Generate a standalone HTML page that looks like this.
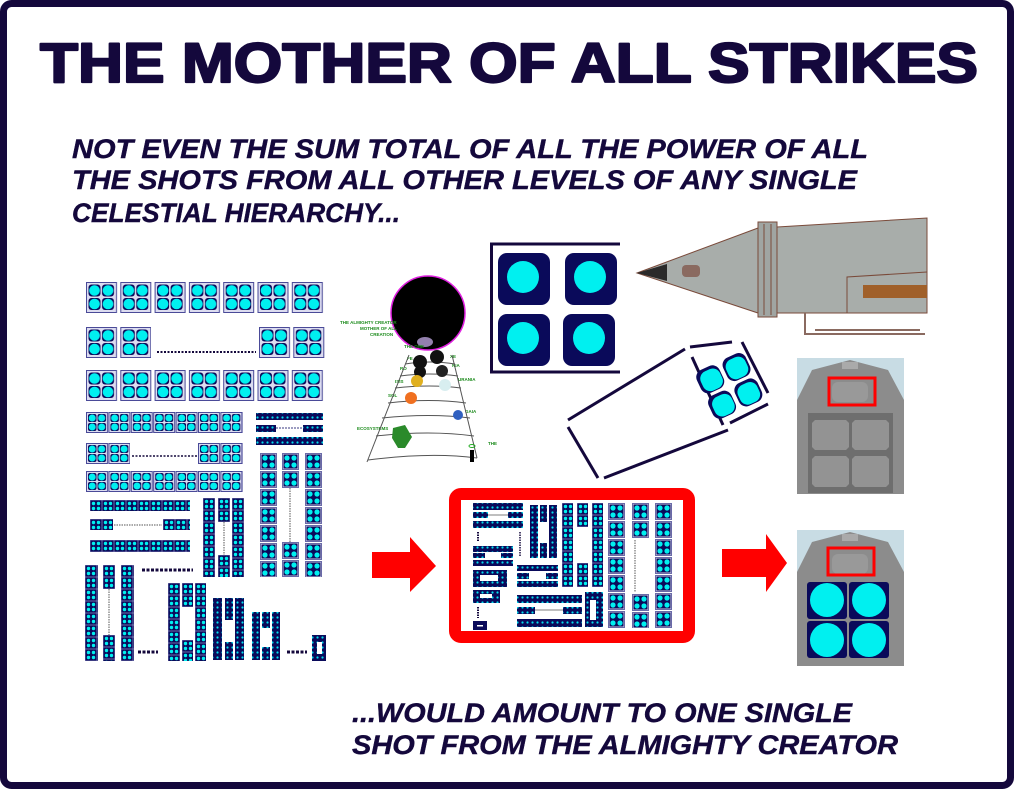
<!DOCTYPE html>
<html><head><meta charset="utf-8"><style>
html,body{margin:0;padding:0;background:#fff;}
svg{display:block;}
text{font-family:"Liberation Sans",Arial,sans-serif;fill:#14083c;font-weight:bold;}
</style></head><body>
<svg width="1014" height="789" viewBox="0 0 1014 789" xmlns="http://www.w3.org/2000/svg">
<defs>
<pattern id="pa" width="34.3" height="31" patternUnits="userSpaceOnUse">
 <rect x="0.5" y="0.5" width="30" height="30" fill="#dcdcf0" stroke="#4a4a98"/>
 <rect x="2.5" y="2.5" width="12" height="12" rx="3" fill="#0a0a5a"/><rect x="16" y="2.5" width="12" height="12" rx="3" fill="#0a0a5a"/>
 <rect x="2.5" y="16" width="12" height="12" rx="3" fill="#0a0a5a"/><rect x="16" y="16" width="12" height="12" rx="3" fill="#0a0a5a"/>
 <circle cx="8.5" cy="8.5" r="5.3" fill="#00f0f0"/><circle cx="22" cy="8.5" r="5.3" fill="#00f0f0"/>
 <circle cx="8.5" cy="22" r="5.3" fill="#00f0f0"/><circle cx="22" cy="22" r="5.3" fill="#00f0f0"/>
</pattern>
<pattern id="pb" width="22.4" height="21" patternUnits="userSpaceOnUse">
 <rect x="0.5" y="0.5" width="21" height="20" fill="#dcdcf0" stroke="#4a4a98"/>
 <rect x="2" y="2" width="8.5" height="8" rx="2" fill="#0a0a5a"/><rect x="11.5" y="2" width="8.5" height="8" rx="2" fill="#0a0a5a"/>
 <rect x="2" y="11" width="8.5" height="8" rx="2" fill="#0a0a5a"/><rect x="11.5" y="11" width="8.5" height="8" rx="2" fill="#0a0a5a"/>
 <circle cx="6.2" cy="6" r="3.5" fill="#00f0f0"/><circle cx="15.7" cy="6" r="3.5" fill="#00f0f0"/>
 <circle cx="6.2" cy="15" r="3.5" fill="#00f0f0"/><circle cx="15.7" cy="15" r="3.5" fill="#00f0f0"/>
</pattern>
<pattern id="pm" width="17" height="18" patternUnits="userSpaceOnUse">
 <rect x="0.5" y="0.5" width="16" height="16" fill="#d0d0ea" stroke="#6a6aa8"/>
 <rect x="1.5" y="1.5" width="14" height="14" fill="#0a0a5a"/>
 <circle cx="5" cy="5" r="2.6" fill="#00f0f0"/><circle cx="12" cy="5" r="2.6" fill="#00f0f0"/>
 <circle cx="5" cy="12" r="2.6" fill="#00f0f0"/><circle cx="12" cy="12" r="2.6" fill="#00f0f0"/>
</pattern>
<pattern id="pc" width="12" height="12" patternUnits="userSpaceOnUse">
 <rect x="0" y="0" width="12" height="12" fill="#0a0a5a" stroke="#8888c0" stroke-width="0.8"/>
 <circle cx="3.5" cy="3.5" r="1.7" fill="#00f0f0"/><circle cx="8.5" cy="3.5" r="1.7" fill="#00f0f0"/>
 <circle cx="3.5" cy="8.5" r="1.7" fill="#00f0f0"/><circle cx="8.5" cy="8.5" r="1.7" fill="#00f0f0"/>
</pattern>
<pattern id="pt" width="5" height="5" patternUnits="userSpaceOnUse">
 <rect width="5" height="5" fill="#0a0a5a"/><circle cx="2.5" cy="2.5" r="1.1" fill="#00e0f0"/>
</pattern>
</defs>

<rect x="3.5" y="3.5" width="1007" height="782" rx="8" fill="#fff" stroke="#14083c" stroke-width="7"/>

<text x="40" y="82" font-size="56" textLength="938" lengthAdjust="spacingAndGlyphs" stroke="#14083c" stroke-width="2.2" stroke-linejoin="round">THE MOTHER OF ALL STRIKES</text>
<g font-style="italic" font-size="27" stroke="#14083c" stroke-width="0.4">
<text x="72" y="158" textLength="796" lengthAdjust="spacingAndGlyphs">NOT EVEN THE SUM TOTAL OF ALL THE POWER OF ALL</text>
<text x="72" y="189" textLength="785" lengthAdjust="spacingAndGlyphs">THE SHOTS FROM ALL OTHER LEVELS OF ANY SINGLE</text>
<text x="72" y="222" textLength="328" lengthAdjust="spacingAndGlyphs">CELESTIAL HIERARCHY...</text>
<text x="352" y="722" textLength="500" lengthAdjust="spacingAndGlyphs">...WOULD AMOUNT TO ONE SINGLE</text>
<text x="352" y="754" textLength="546" lengthAdjust="spacingAndGlyphs">SHOT FROM THE ALMIGHTY CREATOR</text>
</g>

<!-- LEFT BLOCK -->
<rect transform="translate(86,282)" width="240" height="31" fill="url(#pa)"/>
<rect transform="translate(86,327)" width="65" height="31" fill="url(#pa)"/>
<rect transform="translate(259,327)" width="67" height="31" fill="url(#pa)"/>
<line x1="157" y1="352" x2="256" y2="352" stroke="#14083c" stroke-width="2" stroke-dasharray="2,1.5"/>
<rect transform="translate(86,370)" width="240" height="31" fill="url(#pa)"/>

<rect transform="translate(86,412)" width="157" height="21" fill="url(#pb)"/>
<rect transform="translate(86,443)" width="44" height="21" fill="url(#pb)"/>
<rect transform="translate(198,443)" width="45" height="21" fill="url(#pb)"/>
<line x1="132" y1="456" x2="198" y2="456" stroke="#14083c" stroke-width="1.5" stroke-dasharray="2,1.5"/>
<rect transform="translate(86,471)" width="157" height="21" fill="url(#pb)"/>

<rect x="256" y="413" width="67" height="7" fill="url(#pt)"/>
<rect x="256" y="425" width="20" height="7" fill="url(#pt)"/>
<rect x="303" y="425" width="20" height="7" fill="url(#pt)"/>
<line x1="276" y1="428" x2="303" y2="428" stroke="#3a3a80" stroke-width="1" stroke-dasharray="2,1"/>
<rect x="256" y="437" width="67" height="8" fill="url(#pt)"/>

<rect transform="translate(260,453)" width="17" height="124" fill="url(#pm)"/>
<rect transform="translate(282,453)" width="17" height="35" fill="url(#pm)"/>
<rect transform="translate(282,542)" width="17" height="35" fill="url(#pm)"/>
<line x1="290" y1="488" x2="290" y2="542" stroke="#555" stroke-width="1" stroke-dasharray="1.5,1"/>
<rect transform="translate(305,453)" width="17" height="124" fill="url(#pm)"/>

<rect transform="translate(90,500)" width="100" height="11" fill="url(#pc)"/>
<rect transform="translate(90,519)" width="23" height="11" fill="url(#pc)"/>
<rect transform="translate(163,519)" width="27" height="11" fill="url(#pc)"/>
<line x1="114" y1="525" x2="162" y2="525" stroke="#555" stroke-width="1" stroke-dasharray="1.5,1"/>
<rect transform="translate(90,540)" width="100" height="12" fill="url(#pc)"/>

<rect transform="translate(203,498)" width="12" height="79" fill="url(#pc)"/>
<rect transform="translate(218,498)" width="12" height="24" fill="url(#pc)"/>
<rect transform="translate(218,555)" width="12" height="22" fill="url(#pc)"/>
<line x1="224" y1="522" x2="224" y2="555" stroke="#555" stroke-width="1" stroke-dasharray="1.5,1"/>
<rect transform="translate(232,498)" width="12" height="79" fill="url(#pc)"/>
<line x1="142" y1="570" x2="193" y2="570" stroke="#14083c" stroke-width="3" stroke-dasharray="3,1.5"/>

<rect transform="translate(85,565)" width="13" height="96" fill="url(#pc)"/>
<rect transform="translate(103,565)" width="12" height="24" fill="url(#pc)"/>
<rect transform="translate(103,635)" width="12" height="26" fill="url(#pc)"/>
<line x1="109" y1="589" x2="109" y2="635" stroke="#555" stroke-width="1" stroke-dasharray="1.5,1"/>
<rect transform="translate(121,565)" width="13" height="96" fill="url(#pc)"/>
<line x1="138" y1="652" x2="158" y2="652" stroke="#14083c" stroke-width="3" stroke-dasharray="3,1.5"/>

<rect transform="translate(168,583)" width="12" height="78" fill="url(#pc)"/>
<rect transform="translate(182,583)" width="11" height="24" fill="url(#pc)"/>
<rect transform="translate(182,640)" width="11" height="21" fill="url(#pc)"/>
<rect transform="translate(195,583)" width="11" height="78" fill="url(#pc)"/>
<rect x="213" y="598" width="9" height="62" fill="url(#pt)"/>
<rect x="225" y="598" width="8" height="22" fill="url(#pt)"/>
<rect x="225" y="642" width="8" height="18" fill="url(#pt)"/>
<rect x="235" y="598" width="9" height="62" fill="url(#pt)"/>
<rect x="252" y="612" width="8" height="48" fill="url(#pt)"/>
<rect x="262" y="612" width="8" height="16" fill="url(#pt)"/>
<rect x="262" y="647" width="8" height="13" fill="url(#pt)"/>
<rect x="272" y="612" width="8" height="48" fill="url(#pt)"/>
<line x1="287" y1="652" x2="307" y2="652" stroke="#14083c" stroke-width="3" stroke-dasharray="3,1.5"/>
<rect x="312" y="635" width="14" height="26" fill="url(#pt)"/>
<rect x="317" y="642" width="5" height="12" fill="#fff"/>

<!-- PYRAMID -->
<circle cx="428" cy="313" r="37" fill="#000" stroke="#e020e0" stroke-width="1.5"/>
<ellipse cx="425" cy="342" rx="8" ry="5" fill="#b8a0d8" opacity="0.8"/>
<g font-size="4.5" font-weight="bold">
<text x="340" y="324" style="fill:#1a8a1a">THE ALMIGHTY CREATOR</text>
<text x="360" y="330" style="fill:#1a8a1a">MOTHER OF ALL</text>
<text x="370" y="336" style="fill:#1a8a1a">CREATION</text>
<text x="404" y="348" style="fill:#1a8a1a">THE ONE</text>
<text x="407" y="360" style="fill:#1a8a1a">FE</text><text x="450" y="358" style="fill:#1a8a1a">XE</text>
<text x="400" y="370" style="fill:#1a8a1a">RO</text><text x="452" y="367" style="fill:#1a8a1a">NIA</text>
<text x="395" y="383" style="fill:#1a8a1a">ISIS</text><text x="458" y="381" style="fill:#1a8a1a">URANIA</text>
<text x="388" y="397" style="fill:#1a8a1a">SOL</text><text x="465" y="413" style="fill:#1a8a1a">GAIA</text>
<text x="357" y="430" style="fill:#1a8a1a">ECOSYSTEMS</text><text x="488" y="445" style="fill:#1a8a1a">THE</text>
</g>
<g fill="none" stroke="#555" stroke-width="1">
<line x1="409" y1="355" x2="367" y2="462"/><line x1="452" y1="355" x2="477" y2="458"/>
<path d="M405 364 Q430 360 455 364"/><path d="M400 376 Q430 372 458 376"/><path d="M395 388 Q430 384 461 388"/>
<path d="M388 403 Q430 398 466 403"/><path d="M382 418 Q430 413 470 418"/><path d="M376 436 Q430 430 474 436"/>
<path d="M368 460 Q430 452 477 458"/>
</g>
<circle cx="420" cy="362" r="7" fill="#111"/><circle cx="437" cy="357" r="7" fill="#111"/>
<circle cx="420" cy="372" r="6" fill="#111"/><circle cx="442" cy="371" r="6" fill="#222"/>
<circle cx="417" cy="381" r="6" fill="#e0b020"/><circle cx="445" cy="385" r="6" fill="#d8eef0"/>
<circle cx="411" cy="398" r="6" fill="#f07020"/><circle cx="458" cy="415" r="5" fill="#3060c0"/>
<path d="M393 428 L405 425 L412 437 L405 448 L398 448 L392 438Z" fill="#2a8a2a"/>
<rect x="470" y="450" width="4" height="12" fill="#000"/><ellipse cx="472" cy="446" rx="3" ry="1.5" fill="none" stroke="#2a2" stroke-width="1"/>

<!-- BIG POD BOX -->
<path d="M620 244 H491.5 V372 H620" fill="none" stroke="#14083c" stroke-width="3"/>
<g fill="#0a0a5a">
<rect x="498" y="253" width="52" height="52" rx="9"/><rect x="565" y="253" width="52" height="52" rx="9"/>
<rect x="498" y="314" width="52" height="52" rx="9"/><rect x="563" y="314" width="52" height="52" rx="9"/>
</g>
<g fill="#00f0f0">
<circle cx="523" cy="277" r="16"/><circle cx="590" cy="277" r="16"/>
<circle cx="523" cy="338" r="16"/><circle cx="589" cy="338" r="16"/>
</g>

<!-- ROCKET -->
<polygon points="637,273 758,228 758,313" fill="#a8adaa" stroke="#7a4a3a" stroke-width="1"/>
<polygon points="637,273 667,264 667,281" fill="#2a2a2a"/>
<rect x="682" y="265" width="18" height="12" rx="4" fill="#8a6a60"/>
<rect x="758" y="222" width="19" height="95" fill="#a0a5a2" stroke="#7a4a3a" stroke-width="1"/>
<line x1="764" y1="224" x2="764" y2="315" stroke="#7a4a3a"/><line x1="771" y1="224" x2="771" y2="315" stroke="#7a4a3a"/>
<polygon points="777,227 927,218 927,313 777,313" fill="#a8adaa" stroke="#7a4a3a" stroke-width="1"/>
<path d="M847 313 V277 L927 272" fill="none" stroke="#7a4a3a"/>
<rect x="863" y="285" width="64" height="13" fill="#a0602a"/>
<path d="M805 313 V334 H925 M815 330 H920" fill="none" stroke="#8a6a60" stroke-width="2"/>

<!-- TILTED BOX -->
<g fill="none" stroke="#14083c" stroke-width="3">
<line x1="568" y1="420" x2="685" y2="349"/><line x1="568" y1="427" x2="598" y2="478"/>
<line x1="604" y1="478" x2="728" y2="430"/>
<line x1="690" y1="347" x2="732" y2="342"/><line x1="692" y1="357" x2="723" y2="425"/>
<line x1="742" y1="342" x2="768" y2="393"/><line x1="730" y1="423" x2="768" y2="404"/>
</g>
<g transform="translate(730,385) rotate(-25)">
<rect x="-28" y="-26" width="25" height="25" rx="8" fill="#0a0a5a"/><rect x="1" y="-26" width="25" height="25" rx="8" fill="#0a0a5a"/>
<rect x="-28" y="2" width="25" height="25" rx="8" fill="#0a0a5a"/><rect x="1" y="2" width="25" height="25" rx="8" fill="#0a0a5a"/>
<rect x="-25" y="-23" width="21" height="21" rx="8" fill="#00f0f0"/><rect x="3" y="-23" width="21" height="21" rx="8" fill="#00f0f0"/>
<rect x="-25" y="5" width="21" height="21" rx="8" fill="#00f0f0"/><rect x="3" y="5" width="21" height="21" rx="8" fill="#00f0f0"/>
</g>

<!-- DOORS -->
<rect x="797" y="358" width="107" height="136" fill="#c8dce4"/>
<polygon points="797,400 812,370 850,360 888,370 904,400 904,494 797,494" fill="#8c8c8c"/>
<rect x="842" y="362" width="16" height="7" fill="#aaa"/>
<rect x="808" y="413" width="85" height="80" fill="#6e6e6e"/>
<g fill="#939393">
<polygon points="815,420 846,420 849,423 849,447 846,450 815,450 812,447 812,423"/>
<polygon points="855,420 886,420 889,423 889,447 886,450 855,450 852,447 852,423"/>
<polygon points="815,456 846,456 849,459 849,484 846,487 815,487 812,484 812,459"/>
<polygon points="855,456 886,456 889,459 889,484 886,487 855,487 852,484 852,459"/>
</g>
<rect x="832" y="382" width="36" height="20" rx="6" fill="#999"/>
<rect x="829" y="378" width="46" height="27" fill="none" stroke="#f00" stroke-width="3"/>

<rect x="797" y="530" width="107" height="136" fill="#c8dce4"/>
<polygon points="797,572 812,542 850,532 888,542 904,572 904,666 797,666" fill="#8c8c8c"/>
<rect x="842" y="534" width="16" height="7" fill="#aaa"/>
<rect x="832" y="554" width="36" height="20" rx="6" fill="#999"/>
<rect x="828" y="548" width="46" height="27" fill="none" stroke="#f00" stroke-width="3"/>
<g fill="#0a0a5a">
<rect x="807" y="582" width="40" height="37" rx="3"/><rect x="849" y="582" width="40" height="37" rx="3"/>
<rect x="807" y="621" width="40" height="37" rx="3"/><rect x="849" y="621" width="40" height="37" rx="3"/>
</g>
<g fill="#00f0f0">
<circle cx="827" cy="600" r="17"/><circle cx="869" cy="600" r="17"/>
<circle cx="827" cy="640" r="17"/><circle cx="869" cy="640" r="17"/>
</g>

<!-- ARROWS -->
<polygon points="372,552 410,552 410,537 436,566 410,592 410,578 372,578" fill="#f00"/>
<polygon points="722,549 766,549 766,534 787,563 766,592 766,577 722,577" fill="#f00"/>

<!-- RED FRAME -->
<rect x="455" y="494" width="234" height="143" rx="6" fill="#fff" stroke="#f00" stroke-width="12"/>
<rect x="473" y="503" width="50" height="7" fill="url(#pt)"/>
<rect x="473" y="512" width="15" height="6" fill="url(#pt)"/><rect x="508" y="512" width="15" height="6" fill="url(#pt)"/>
<line x1="488" y1="515" x2="508" y2="515" stroke="#555" stroke-width="0.8"/>
<rect x="473" y="521" width="50" height="7" fill="url(#pt)"/>
<line x1="478" y1="532" x2="478" y2="542" stroke="#14083c" stroke-width="2" stroke-dasharray="1.5,1"/>
<line x1="520" y1="532" x2="520" y2="556" stroke="#14083c" stroke-width="1.5" stroke-dasharray="1.5,1"/>
<rect x="473" y="546" width="40" height="6" fill="url(#pt)"/>
<rect x="473" y="553" width="12" height="5" fill="url(#pt)"/><rect x="501" y="553" width="12" height="5" fill="url(#pt)"/>
<rect x="473" y="560" width="40" height="6" fill="url(#pt)"/>
<rect x="473" y="570" width="34" height="17" fill="url(#pt)"/><rect x="480" y="575" width="18" height="6" fill="#fff"/>
<rect x="473" y="590" width="27" height="13" fill="url(#pt)"/><rect x="480" y="594" width="12" height="4" fill="#fff"/>
<line x1="478" y1="607" x2="478" y2="618" stroke="#14083c" stroke-width="2" stroke-dasharray="1.5,1"/>
<rect x="473" y="621" width="14" height="9" fill="#0a0a5a"/><rect x="477" y="625" width="6" height="1.5" fill="#fff"/>
<rect x="530" y="505" width="8" height="53" fill="url(#pt)"/><rect x="540" y="505" width="7" height="17" fill="url(#pt)"/>
<rect x="540" y="543" width="7" height="15" fill="url(#pt)"/><rect x="549" y="505" width="8" height="53" fill="url(#pt)"/>
<rect x="517" y="565" width="41" height="6" fill="url(#pt)"/>
<rect x="517" y="573" width="12" height="6" fill="url(#pt)"/><rect x="546" y="573" width="12" height="6" fill="url(#pt)"/>
<rect x="517" y="581" width="41" height="6" fill="url(#pt)"/>
<rect x="517" y="595" width="65" height="8" fill="url(#pt)"/>
<rect x="517" y="607" width="18" height="7" fill="url(#pt)"/><rect x="563" y="607" width="19" height="7" fill="url(#pt)"/>
<line x1="535" y1="610" x2="563" y2="610" stroke="#555" stroke-width="0.8"/>
<rect x="517" y="619" width="65" height="8" fill="url(#pt)"/>
<rect transform="translate(562,503)" width="11" height="84" fill="url(#pc)"/>
<rect transform="translate(577,503)" width="11" height="24" fill="url(#pc)"/>
<rect transform="translate(577,563)" width="11" height="24" fill="url(#pc)"/>
<rect transform="translate(592,503)" width="11" height="84" fill="url(#pc)"/>
<rect x="585" y="592" width="18" height="35" fill="url(#pt)"/><rect x="590" y="600" width="6" height="20" fill="#fff"/>
<rect transform="translate(608,503)" width="17" height="125" fill="url(#pm)"/>
<rect transform="translate(632,503)" width="17" height="35" fill="url(#pm)"/>
<rect transform="translate(632,594)" width="17" height="34" fill="url(#pm)"/>
<line x1="635" y1="540" x2="635" y2="592" stroke="#555" stroke-width="1" stroke-dasharray="1.5,1"/>
<rect transform="translate(655,503)" width="17" height="125" fill="url(#pm)"/>
</svg>
</body></html>
